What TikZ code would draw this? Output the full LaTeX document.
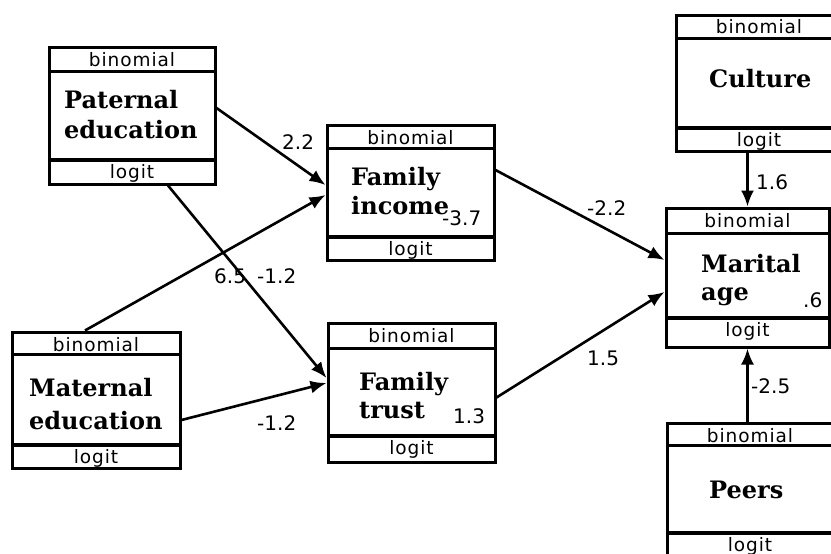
\documentclass[tikz,border=0pt]{standalone}
\usepackage{fontspec}
\usetikzlibrary{arrows.meta,calc}
\newfontfamily\serfam{DejaVu Serif}
\newfontfamily\sanfam{DejaVu Sans}
\newfontfamily\tagfam[LetterSpace=5]{DejaVu Sans}
\newcommand\ttlfont{\serfam\bfseries\fontsize{24}{28}\selectfont}
\newcommand\tagfont{\tagfam\fontsize{18.5}{20}\selectfont}
\newcommand\numfont{\sanfam\fontsize{20}{22}\selectfont}
\tikzset{
  box/.style={draw, line width=3pt, inner sep=0pt, outer sep=1.5pt},
  sepline/.style={line width=3pt},
  septhick/.style={line width=3.8pt},
  tag/.style={font=\tagfont, inner sep=0pt, anchor=base},
  ttl/.style={font=\ttlfont, inner sep=0pt, anchor=base west},
  num/.style={font=\numfont, inner sep=0pt, anchor=base west},
  arr/.style={line width=2.6pt, -{Latex[length=16pt,width=13pt]}}
}
% name, left, top, right, bottom, sep1, sep2
\newcommand\mkbox[7]{%
  \node[box, minimum width={#4-#2}, minimum height={#5-#3}] (#1) at ({(#2+#4)/2},{(#3+#5)/2}) {};
  \draw[sepline] (#2,#6) -- (#4,#6);
  \draw[septhick] (#2,#7) -- (#4,#7);
  \node[tag] (#1-dist) at ({(#2+#4)/2},{#3+19}) {binomial};
  \node[tag] (#1-link) at ({(#2+#4)/2},{#7+18}) {logit};
}
\begin{document}
\begin{tikzpicture}[x=1pt,y=-1pt]
\useasboundingbox (0,0) rectangle (831,554);
\clip (0,0) rectangle (831,554);
\fill[white] (0,0) rectangle (831,554);

\mkbox{pat}{49}{47}{215}{184}{71}{160}
\mkbox{inc}{327}{125}{494}{260}{148}{237}
\mkbox{cul}{676}{15}{842}{151}{38}{128}
\mkbox{mar}{666}{208}{829}{347}{233}{318}
\mkbox{pee}{667}{423}{833}{560}{445}{533}
\mkbox{mat}{12}{332}{180}{468}{354}{445}
\mkbox{tru}{328}{323}{495}{462}{348}{436}

% titles
\node[ttl] (pat-t1) at (64,108) {Paternal};
\node[ttl] (pat-t2) at (64,138) {education};
\node[ttl] (inc-t1) at (351,185) {Family};
\node[ttl] (inc-t2) at (351,214) {income};
\node[ttl] (cul-t1) at (709,87) {Culture};
\node[ttl] (mar-t1) at (701,272) {Marital};
\node[ttl] (mar-t2) at (701,300) {age};
\node[ttl] (pee-t1) at (709,498) {Peers};
\node[ttl] (mat-t1) at (29,396) {Maternal};
\node[ttl] (mat-t2) at (29,429) {education};
\node[ttl] (tru-t1) at (359,390) {Family};
\node[ttl] (tru-t2) at (359,418) {trust};

% values inside boxes
\node[num] (inc-v) at (442,225) {-3.7};
\node[num] (tru-v) at (453,423) {1.3};
\node[num] (mar-v) at (803,307) {.6};

% connectors
\draw[arr] ([yshift=7.5pt]pat.east) -- ([yshift=7.5pt]inc.west);
\draw[arr] ([xshift=36pt]pat.south) -- ([yshift=14.5pt]tru.west);
\draw[arr] ([xshift=-11pt]mat.north) -- ([yshift=-2.5pt]inc.west);
\draw[arr] ([yshift=-20pt]mat.east) -- ([yshift=9.5pt]tru.west);
\draw[arr] ([yshift=22.5pt]inc.east) -- ([yshift=17.5pt]mar.west);
\draw[arr] ([yshift=-5pt]tru.east) -- ([yshift=-14.5pt]mar.west);
\draw[arr] (cul.south -| mar.north) -- (mar.north);
\draw[arr] (pee.north -| mar.south) -- (mar.south);

% connector labels
\node[num] (l1) at (282,149) {2.2};
\node[num] (l2) at (214,283) {6.5};
\node[num] (l3) at (257,283) {-1.2};
\node[num] (l4) at (257,430) {-1.2};
\node[num] (l5) at (587,215) {-2.2};
\node[num] (l6) at (587,365) {1.5};
\node[num] (l7) at (756,189) {1.6};
\node[num] (l8) at (751,393) {-2.5};
\end{tikzpicture}
\end{document}
